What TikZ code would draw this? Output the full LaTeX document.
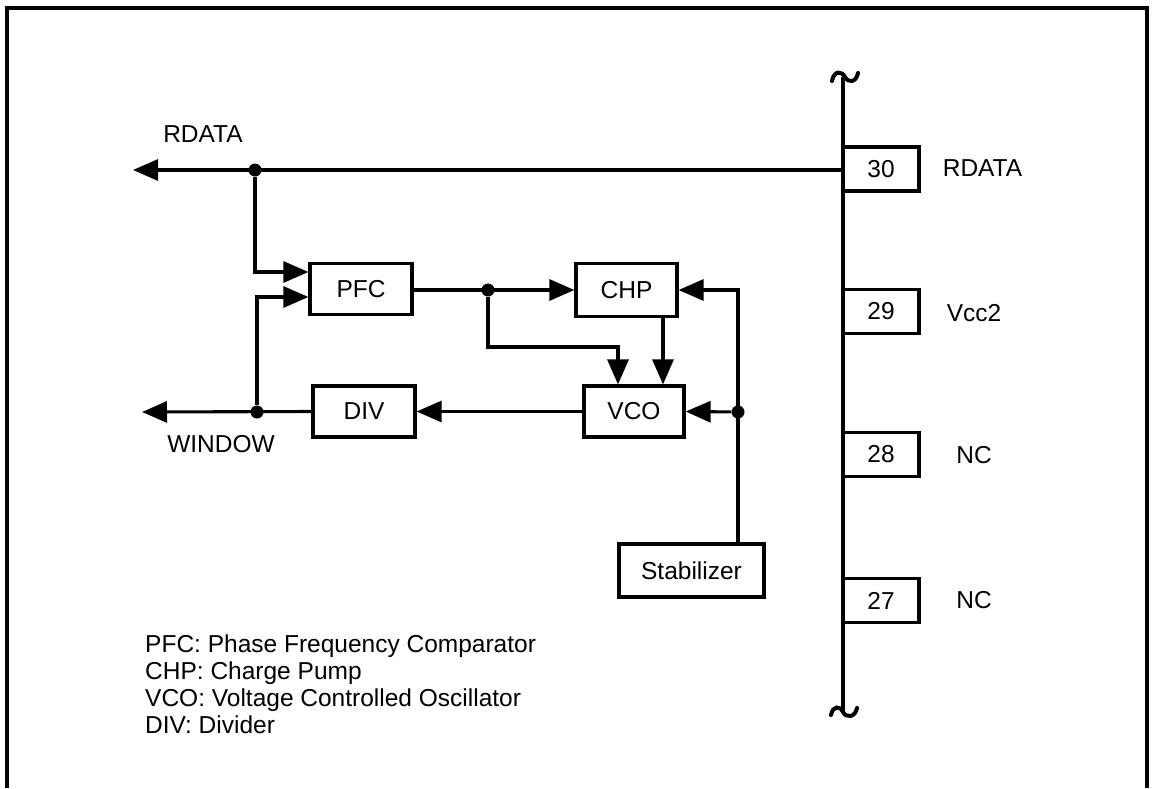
\documentclass[tikz,border=0pt]{standalone}
\usepackage{fontspec}
\setmainfont{Liberation Sans}
\usetikzlibrary{arrows.meta,calc}
\begin{document}
\begin{tikzpicture}[x=1pt,y=-1pt,
  every node/.style={font=\fontsize{24.5}{26}\selectfont, inner sep=0pt},
  wire/.style={line width=3.1pt},
  arr/.style={wire, -{Triangle[length=25pt,width=21pt]}},
  blk/.style={draw, line width=3.2pt, minimum width=#1},
  pin/.style={draw, line width=3.2pt, minimum width=76pt, minimum height=44pt},
  dot/.style={circle, fill=black, minimum size=13pt, inner sep=0pt},
  lbl/.style={anchor=center},
  leg/.style={anchor=base west}]
\useasboundingbox (0,0) rectangle (1153,788);
% frame
\draw[line width=3.2pt] (7,788) -- (7,8) -- (1147,8) -- (1147,788);

% blocks
\node[blk=102pt, minimum height=51pt] (pfc) at (361,289) {PFC};
\node[blk=101pt, minimum height=53pt] (chp) at (626.5,290) {CHP};
\node[blk=100pt, minimum height=51pt] (vco) at (634,411.5) {VCO};
\node[blk=102pt, minimum height=51pt] (div) at (364,411.5) {DIV};
\node[blk=145pt, minimum height=53pt] (stab) at (691.5,570.5) {Stabilizer};

% pins
\node[pin] (p30) at (881,169) {30};
\node[pin] (p29) at (881,311.5) {29};
\node[pin] (p28) at (881,454.5) {28};
\node[pin] (p27) at (881,600.5) {27};

\node[lbl] (l30) at (982.5,168) {RDATA};
\node[lbl] (l29) at (974,313) {Vcc2};
\node[lbl] (l28) at (974,455) {NC};
\node[lbl] (l27) at (974,600) {NC};

% bus
\coordinate (bustop) at (843,77);
\coordinate (busbot) at (843,712);
\draw[wire] (bustop) -- (busbot);
\draw[line width=4pt, line cap=round] (832,81) .. controls (834,70) and (842,71) .. (845,77) .. controls (848,83) and (856,83) .. (858,73);
\draw[line width=4pt, line cap=round] (831,715) .. controls (833,705) and (840,706) .. (843,712) .. controls (846,718) and (855,718) .. (857,708);

% left labels
\node[lbl] (lrdata) at (203,134) {RDATA};
\node[lbl] (lwin) at (221,444) {WINDOW};

% RDATA line
\coordinate (rtip) at (133,170);
\node[dot] (d1) at (255,170) {};
\draw[arr] (p30.west |- d1) -- (rtip);
\draw[arr] (d1) |- ($(pfc.west)+(0,-17)$);

% WINDOW line
\coordinate (wtip) at (142,412);
\node[dot] (d2) at (257,412) {};
\draw[arr] (div.west) -- (wtip);
\draw[arr] (d2) |- ($(pfc.west)+(0,8)$);

% PFC -> CHP
\node[dot] (d3) at (488,290) {};
\draw[arr] (pfc.east |- d3) -- (chp.west |- d3);
\draw[arr] (d3) -- ++(0,57) -| ($(vco.north)+(-16,0)$);
\draw[arr] ($(chp.south)+(36.5,0)$) -- ($(vco.north)+(29,0)$);

% VCO -> DIV
\draw[arr] (vco.west) -- (div.east);

% Stabilizer feed
\node[dot] (d4) at (738,412) {};
\draw[arr] ($(stab.north)+(46.5,0)$) |- (chp.east);
\draw[arr] (d4) -- (vco.east);

% legend
\node[leg] (leg1) at (145,652) {PFC: Phase Frequency Comparator};
\node[leg] (leg2) at (145,679) {CHP: Charge Pump};
\node[leg] (leg3) at (145,706) {VCO: Voltage Controlled Oscillator};
\node[leg] (leg4) at (145,733) {DIV: Divider};
\end{tikzpicture}
\end{document}
